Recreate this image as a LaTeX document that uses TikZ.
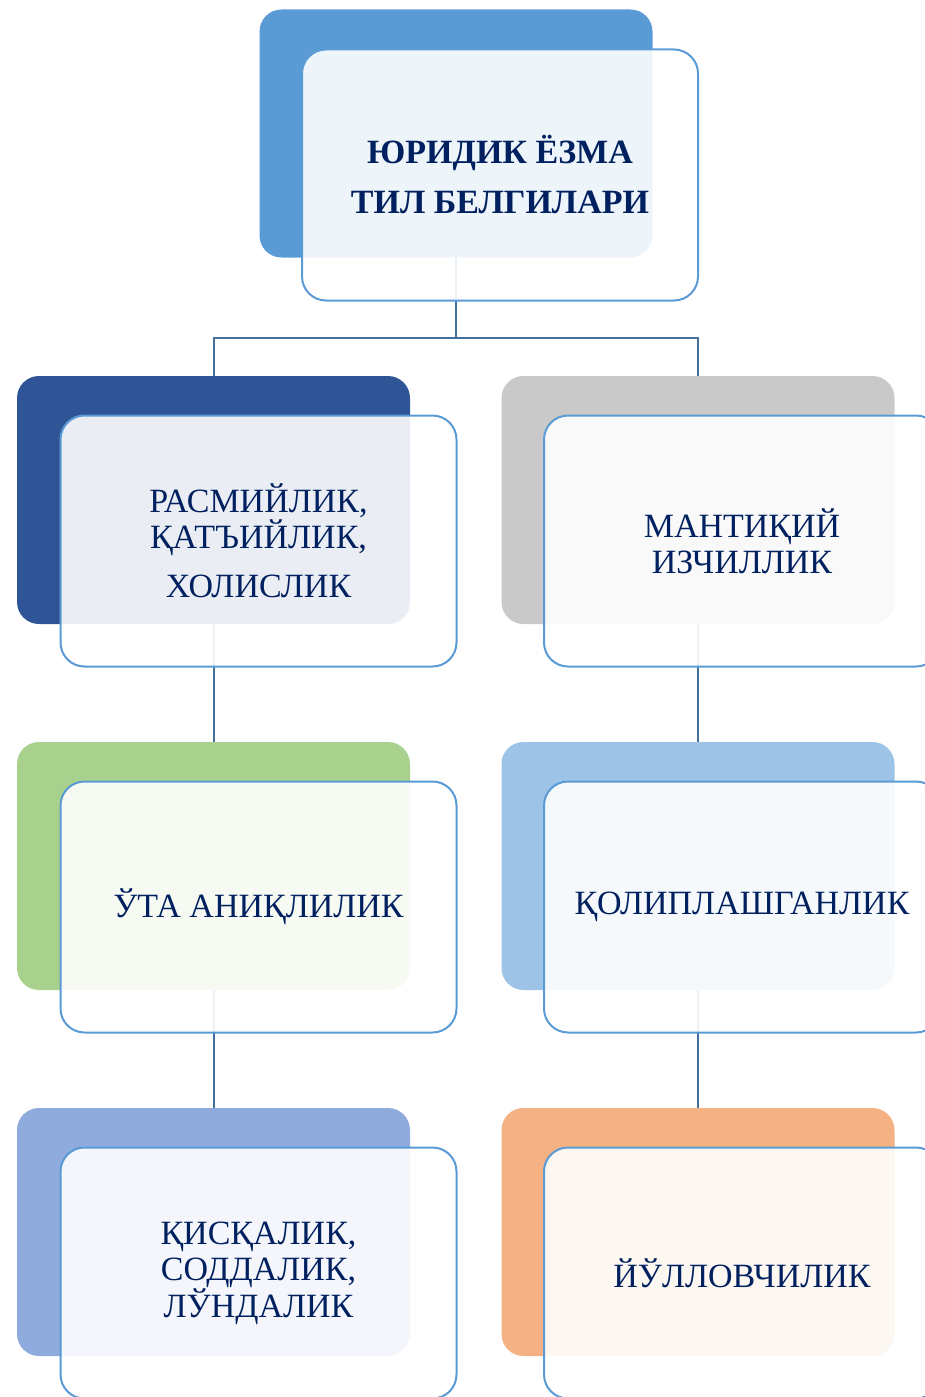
\documentclass[tikz,border=0pt]{standalone}
\usepackage{fontspec}
\setmainfont{Liberation Serif}
\usetikzlibrary{backgrounds,calc}
\definecolor{txtnavy}{HTML}{002060}
\definecolor{boxline}{HTML}{5B9BD5}
\definecolor{linkblue}{HTML}{41719C}
\definecolor{topblue}{HTML}{5B9BD5}
\definecolor{darkblue}{HTML}{2F5597}
\definecolor{lightgray}{HTML}{C9C9C9}
\definecolor{lightgreen}{HTML}{A9D18E}
\definecolor{skyblue}{HTML}{9DC3E6}
\definecolor{paleblue}{HTML}{8FAADC}
\definecolor{peach}{HTML}{F4B183}

\begin{document}
\begin{tikzpicture}[x=1pt,y=-1pt,
  back/.style={rectangle,rounded corners=22pt,minimum width=393pt,minimum height=248pt,inner sep=0pt},
  front/.style={rectangle,rounded corners=24pt,draw=boxline,line width=2pt,fill=white,fill opacity=0.9,text opacity=1,
    minimum width=396pt,minimum height=251pt,text=txtnavy,align=center,font=\fontsize{34}{36}\selectfont},
  link/.style={draw=linkblue,line width=2pt}]
\clip (0,0) rectangle (925,1397);
% top box
\node[back,fill=topblue] (tb) at (456,133.5) {};
\node[front,font=\fontsize{34}{50}\selectfont\bfseries] (tf) at (500,175) {ЮРИДИК ЁЗМА\\ТИЛ БЕЛГИЛАРИ};
% left column
\node[back,fill=darkblue] (lb1) at (213.5,500) {};
\node[front] (lf1) at (258.5,541) {РАСМИЙЛИК,\\ҚАТЪИЙЛИК,\\[13pt]ХОЛИСЛИК};
\node[back,fill=lightgreen] (lb2) at (213.5,866) {};
\node[front] (lf2) at (258.5,907) {ЎТА АНИҚЛИЛИК};
\node[back,fill=paleblue] (lb3) at (213.5,1232) {};
\node[front] (lf3) at (258.5,1273) {ҚИСҚАЛИК,\\СОДДАЛИК,\\ЛЎНДАЛИК};
% right column
\node[back,fill=lightgray] (rb1) at (698,500) {};
\node[front] (rf1) at (742,541) {МАНТИҚИЙ\\ИЗЧИЛЛИК};
\node[back,fill=skyblue] (rb2) at (698,866) {};
\node[front] (rf2) at (742,907) {ҚОЛИПЛАШГАНЛИК};
\node[back,fill=peach] (rb3) at (698,1232) {};
\node[front] (rf3) at (742,1273) {ЙЎЛЛОВЧИЛИК};
% connectors
\begin{scope}[on background layer]
\coordinate (split) at ($(tb.south)+(0,80)$);
\draw[link] (tb.south) -- (split);
\draw[link] (split) -| (lb1.north);
\draw[link] (split) -| (rb1.north);
\draw[link] (lb1.south) -- (lb2.north);
\draw[link] (lb2.south) -- (lb3.north);
\draw[link] (rb1.south) -- (rb2.north);
\draw[link] (rb2.south) -- (rb3.north);
\end{scope}
\end{tikzpicture}
\end{document}
